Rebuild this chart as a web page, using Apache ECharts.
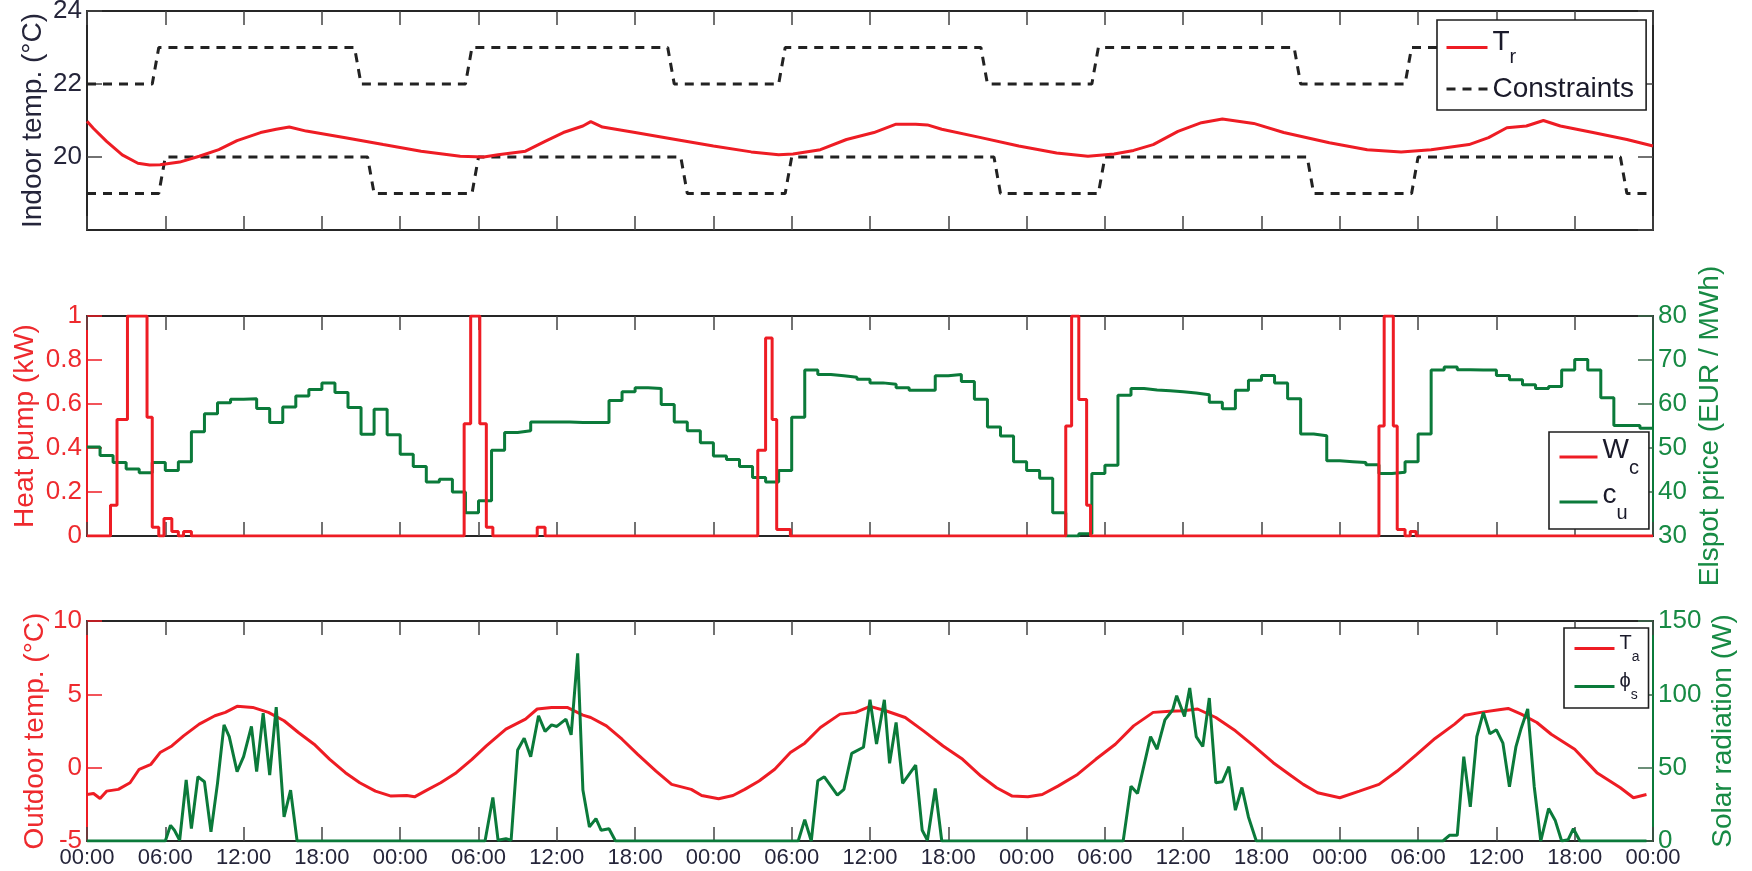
<!DOCTYPE html>
<html>
<head>
<meta charset="utf-8">
<script src="https://cdn.jsdelivr.net/npm/echarts@6/dist/echarts.min.js"></script>
<style>html,body{margin:0;padding:0;background:#fff}#c{width:1752px;height:871px}</style>
</head>
<body>
<div id="c"></div>
<script>
// ---------- data (hours from the first 00:00) ----------
const timeTickLabels = ['00:00', '06:00', '12:00', '18:00'];

// Indoor temperature T_r (°C)
const trHours = [0, 0.5, 1.5, 2.7, 3.9, 4.8, 5.6, 7.1, 8.6, 10.1, 11.5, 13.3, 14.5, 15.5, 16.8, 19.8, 22.7, 25.6, 28.6, 30.4, 31.5, 33.6, 35.1, 36.5, 38, 38.6, 39.5, 42, 45.1, 48, 50.9, 53, 54.1, 56.2, 58.2, 60.3, 62, 63.5, 64.4, 65.5, 68.5, 71.4, 74.3, 76.7, 78.7, 80.2, 81.7, 83.6, 85.4, 87, 89.4, 91.7, 95.2, 98.1, 100.7, 103, 105.9, 107.4, 108.8, 110.3, 111.6, 112.9, 115.4, 118, 120];
const trValues = [20.98, 20.78, 20.43, 20.06, 19.83, 19.78, 19.79, 19.86, 20.02, 20.2, 20.45, 20.67, 20.76, 20.82, 20.71, 20.53, 20.34, 20.16, 20.02, 20.0, 20.06, 20.16, 20.43, 20.67, 20.85, 20.97, 20.82, 20.67, 20.48, 20.3, 20.14, 20.06, 20.08, 20.2, 20.48, 20.67, 20.9, 20.9, 20.88, 20.76, 20.53, 20.3, 20.11, 20.02, 20.08, 20.18, 20.34, 20.7, 20.94, 21.04, 20.92, 20.67, 20.39, 20.2, 20.14, 20.2, 20.34, 20.53, 20.8, 20.85, 21.0, 20.85, 20.67, 20.48, 20.3];

// Comfort constraints (°C)
const upperHours = [0, 5, 5.5, 20.5, 21, 29, 29.5, 44.5, 45, 53, 53.5, 68.5, 69, 77, 77.5, 92.5, 93, 101, 101.5, 116.5, 117, 120];
const upperValues = [22, 22, 23, 23, 22, 22, 23, 23, 22, 22, 23, 23, 22, 22, 23, 23, 22, 22, 23, 23, 22, 22];
const lowerHours = [0, 5.5, 6, 21.5, 22, 29.5, 30, 45.5, 46, 53.5, 54, 69.5, 70, 77.5, 78, 93.5, 94, 101.5, 102, 117.5, 118, 120];
const lowerValues = [19, 19, 20, 20, 19, 19, 20, 20, 19, 19, 20, 20, 19, 19, 20, 20, 19, 19, 20, 20, 19, 19];

// Heat pump power W_c (kW), step changes
const wcHours = [0, 1.8, 2.3, 3.1, 4.6, 5.0, 5.5, 5.9, 6.5, 7.0, 7.4, 8.0, 28.9, 29.4, 30.1, 30.6, 31.1, 34.5, 35.1, 51.4, 52.0, 52.5, 52.85, 53.9, 75.0, 75.45, 76.0, 76.6, 76.9, 99.0, 99.4, 100.1, 100.4, 101.0, 101.4, 101.85, 120];
const wcValues = [0, 0.14, 0.53, 1.0, 0.54, 0.04, 0, 0.08, 0.02, 0, 0.02, 0, 0.51, 1.0, 0.51, 0.04, 0, 0.04, 0, 0.39, 0.9, 0.53, 0.03, 0, 0.5, 1.0, 0.62, 0.14, 0, 0.5, 1.0, 0.5, 0.03, 0, 0.02, 0, 0];

// Elspot price c_u (EUR/MWh), one value per hour
const priceValues = [
  50.2, 48.3, 46.7, 45.2, 44.4, 46.7, 44.9, 46.9, 53.7, 57.8, 60.3, 61.1, 61.2, 59.0, 55.8, 59.3, 61.8, 63.3, 64.8, 62.6, 59.2, 53.1, 58.8, 53.0,
  48.6, 45.8, 42.3, 42.9, 40.0, 35.3, 38.0, 49.5, 53.5, 53.9, 55.9, 55.9, 55.9, 55.8, 55.8, 55.8, 60.8, 62.8, 63.7, 63.5, 59.9, 55.9, 53.9, 51.2,
  48.2, 47.4, 45.8, 43.3, 42.3, 44.9, 57.0, 67.7, 66.7, 66.4, 66.1, 65.6, 64.8, 64.5, 63.7, 63.1, 63.1, 66.4, 66.7, 65.1, 61.1, 54.8, 52.7, 46.9,
  44.9, 43.1, 35.3, 30.0, 30.5, 44.2, 46.1, 62.0, 63.5, 63.2, 63.0, 62.8, 62.5, 62.1, 60.4, 58.9, 63.1, 65.4, 66.5, 64.8, 61.2, 53.2, 52.8, 47.1,
  46.9, 46.7, 46.2, 44.2, 44.5, 46.9, 53.2, 67.7, 68.4, 67.8, 67.7, 67.7, 66.5, 65.5, 64.4, 63.5, 64.0, 67.7, 70.1, 67.7, 61.4, 55.1, 55.1, 54.5
];

// Outdoor temperature T_a (°C)
const taHours = [0, 0.5, 1, 1.5, 2.4, 3.3, 4, 4.9, 5.6, 6.5, 7.4, 8.6, 9.8, 10.6, 11.5, 12.7, 13.9, 15.1, 16.2, 17.4, 18.6, 19.8, 20.9, 22.1, 23.3, 24.5, 25.1, 25.9, 27.1, 28.3, 29.5, 30.6, 32.1, 33.6, 34.5, 35.6, 36.8, 38, 38.6, 39.8, 41, 42.2, 43.6, 44.8, 46.3, 47.1, 48.4, 49.5, 50.4, 51.5, 52.7, 53.9, 55, 56.2, 57.7, 58.9, 60, 61.2, 62.7, 64.1, 65.6, 67.1, 68.5, 69.7, 70.9, 72.1, 73.2, 74.4, 75.9, 77.3, 78.8, 80.2, 81.7, 83, 84, 85.1, 86.5, 88, 89.4, 90.9, 92.3, 93.2, 94.3, 96, 97.5, 99, 100.4, 101.9, 103.3, 104.8, 105.6, 106.8, 108.2, 108.9, 109.9, 111.1, 112.2, 114, 115.7, 117.5, 118.5, 119.5];
const taValues = [-1.83, -1.76, -2.1, -1.6, -1.48, -1.03, -0.11, 0.23, 1.03, 1.48, 2.17, 2.97, 3.54, 3.77, 4.18, 4.11, 3.77, 3.2, 2.4, 1.6, 0.57, -0.34, -1.03, -1.6, -1.94, -1.9, -1.99, -1.6, -1.03, -0.34, 0.57, 1.48, 2.63, 3.31, 4.0, 4.11, 4.11, 3.58, 3.42, 2.85, 1.94, 0.91, -0.23, -1.14, -1.48, -1.9, -2.12, -1.9, -1.48, -0.91, -0.11, 1.03, 1.67, 2.74, 3.65, 3.77, 4.18, 3.88, 3.42, 2.51, 1.48, 0.57, -0.57, -1.37, -1.94, -1.99, -1.83, -1.26, -0.46, 0.57, 1.6, 2.85, 3.77, 3.85, 3.88, 4.0, 3.42, 2.51, 1.48, 0.34, -0.57, -1.14, -1.71, -2.05, -1.6, -1.14, -0.23, 0.91, 1.99, 2.97, 3.58, 3.77, 3.95, 4.04, 3.65, 3.08, 2.28, 1.26, -0.34, -1.37, -2.05, -1.83];

// Solar radiation phi_s (W)
const phiHours = [0, 6, 6.4, 6.7, 7.1, 7.6, 8, 8.5, 9, 9.5, 10, 10.5, 10.9, 11.5, 12, 12.6, 13, 13.5, 14, 14.5, 15.1, 15.6, 16.1,
  30.5, 31.1, 31.5, 32.1, 32.5, 33, 33.5, 34, 34.6, 35.1, 35.6, 36, 36.7, 37.1, 37.6, 38, 38.5, 39, 39.4, 40, 40.5,
  54.5, 55, 55.5, 56, 56.5, 57.5, 58, 58.6, 59.5, 60, 60.5, 61.1, 61.5, 62, 62.5, 63.5, 64, 64.4, 65, 65.5,
  79.4, 80, 80.5, 81.5, 82, 82.6, 83.2, 83.5, 84.1, 84.5, 85, 85.5, 86, 86.5, 87, 87.5, 88, 88.5, 89, 89.6,
  103.9, 104.4, 105, 105.5, 106, 106.5, 107, 107.5, 108, 108.5, 109, 109.5, 109.9, 110.4, 110.9, 111.4, 112, 112.5, 113, 113.5, 113.9, 114.4, 119.5];
const phiValues = [0, 0, 10.7, 7.3, 0.5, 41.6, 8.4, 43.8, 40.4, 6.2, 39.3, 79.2, 71.2, 47.3, 57.5, 78.1, 47.3, 87.2, 45, 91.3, 16.4, 34.7, 0,
  0, 29.7, 0.5, 1.6, 0.5, 62.1, 70.1, 57.5, 85.4, 74.7, 79.2, 78.1, 83.1, 72.4, 127.9, 34.7, 9.6, 15.3, 7.3, 8.4, 0,
  0, 14.6, 0, 41.1, 43.8, 31.3, 35.2, 59.8, 63.9, 96.3, 66.2, 96.3, 53, 80.8, 39.3, 51.8, 7.3, 0.5, 35.8, 0,
  0, 37.4, 32.4, 71.2, 62.6, 82.6, 89.5, 99.1, 84.9, 104.3, 71.2, 64.4, 97.5, 39.7, 40.4, 50.7, 21, 36.5, 16.4, 0,
  0, 3.9, 3.9, 57.5, 23.3, 71.2, 87.7, 73.1, 75.8, 66.7, 37, 64.4, 76.9, 90, 37, 0, 22.1, 14.2, 0, 0.9, 8.4, 0, 0];

// legend labels: main letter + subscript
const legendLabels = {
  Tr: ['T', 'r'], Constraints: ['Constraints', ''],
  Wc: ['W', 'c'], cu: ['c', 'u'],
  Ta: ['T', 'a'], phis: ['\u03D5', 's']
};

// ---------- styling ----------
const F = '"Liberation Sans", Arial, Helvetica, sans-serif';
const RED = '#ee1c24';
const GREEN = '#0b7a3a';
const GREEN_TXT = '#178a44';
const RED_TXT = '#ee2a2e';
const DARK = '#262626';
const TXT = '#25253a';
const LEG_TXT = '#1a1a2a';

const pairs = (h, v) => h.map((t, i) => [t, v[i]]);
const priceData = priceValues.map((v, k) => [k, v]).concat([[120, priceValues[priceValues.length - 1]]]);

function xAx(grid, pos, showLabel) {
  return {
    type: 'value', gridIndex: grid, position: pos, min: 0, max: 120, interval: 6,
    axisLine: { show: true, onZero: false, lineStyle: { color: DARK, width: 2 } },
    axisTick: { show: true, inside: true, length: 14, lineStyle: { color: '#444', width: 1.5 } },
    axisLabel: { show: showLabel, margin: 6, fontFamily: F, fontSize: 22, color: TXT,
      formatter: v => timeTickLabels[Math.round(v / 6) % 4] },
    splitLine: { show: false }
  };
}
function yAx(o) {
  return {
    type: 'value', gridIndex: o.grid, position: o.pos, min: o.min, max: o.max, interval: o.interval,
    name: o.name || '', nameLocation: 'middle', nameGap: o.nameGap || 0, nameMoveOverlap: false,
    nameTextStyle: { fontFamily: F, fontSize: 28, color: o.txt },
    axisLine: { show: true, onZero: false, lineStyle: { color: o.line, width: 2 } },
    axisTick: { show: true, inside: true, length: 15, lineStyle: { color: o.tick || o.line, width: 1.5 } },
    axisLabel: { show: o.labels !== false, showMinLabel: o.hideMin ? false : null, margin: 5,
      fontFamily: F, fontSize: 26, color: o.txt },
    splitLine: { show: false }
  };
}
function legend(names, left, top, size, subSize, drop, padding, gap, iconW) {
  return {
    data: names, orient: 'vertical', left: left, top: top, padding: padding, itemGap: gap,
    itemWidth: iconW, itemHeight: 14, selectedMode: false,
    itemStyle: { opacity: 0 },
    lineStyle: { width: 3 },
    backgroundColor: '#fff', borderColor: '#1e1e1e', borderWidth: 1.6, borderRadius: 0,
    formatter: n => { const [m, s] = legendLabels[n]; return s ? '{m|' + m + '}{s|' + s + '}' : '{p|' + m + '}'; },
    textStyle: { fontFamily: F, fontSize: size, color: LEG_TXT,
      rich: {
        m: { fontFamily: F, fontSize: size, color: LEG_TXT, verticalAlign: 'bottom', padding: [0, 0, drop, 0] },
        s: { fontFamily: F, fontSize: subSize, color: LEG_TXT, verticalAlign: 'bottom' },
        p: { fontFamily: F, fontSize: size, color: LEG_TXT }
      } }
  };
}

const chart = echarts.init(document.getElementById('c'), null, { renderer: 'canvas' });
chart.setOption({
  animation: false,
  backgroundColor: '#fff',
  grid: [
    { left: 87, right: 99, top: 11, height: 219, outerBoundsMode: 'none' },
    { left: 87, right: 99, top: 316, height: 220, outerBoundsMode: 'none' },
    { left: 87, right: 99, top: 621, height: 220, outerBoundsMode: 'none' }
  ],
  xAxis: [xAx(0, 'bottom', false), xAx(0, 'top', false), xAx(1, 'bottom', false), xAx(1, 'top', false), xAx(2, 'bottom', true), xAx(2, 'top', false)],
  yAxis: [
    yAx({ grid: 0, pos: 'left', min: 18, max: 24, interval: 2, name: 'Indoor temp. (°C)', nameGap: 40, txt: TXT, line: DARK, tick: '#444', hideMin: true }),
    yAx({ grid: 0, pos: 'right', min: 18, max: 24, interval: 2, txt: TXT, line: DARK, tick: '#444', labels: false }),
    yAx({ grid: 1, pos: 'left', min: 0, max: 1, interval: 0.2, name: 'Heat pump (kW)', nameGap: 48, txt: RED_TXT, line: RED }),
    yAx({ grid: 1, pos: 'right', min: 30, max: 80, interval: 10, name: 'Elspot price (EUR / MWh)', nameGap: 43, txt: GREEN_TXT, line: GREEN, tick: '#3d6b4c' }),
    yAx({ grid: 2, pos: 'left', min: -5, max: 10, interval: 5, name: 'Outdoor temp. (°C)', nameGap: 38, txt: RED_TXT, line: RED }),
    yAx({ grid: 2, pos: 'right', min: 0, max: 150, interval: 50, name: 'Solar radiation (W)', nameGap: 56, txt: GREEN_TXT, line: GREEN, tick: '#3d6b4c' })
  ],
  legend: [
    legend(['Tr', 'Constraints'], 1437, 20, 28, 20, 11, [8, 12, 7, 8], 8, 41),
    legend(['Wc', 'cu'], 1549, 432, 28, 20, 14, [4, 10, 6, 9], 3, 38),
    legend(['Ta', 'phis'], 1564, 628, 20, 14, 11, [5, 9, 6, 9], 7, 40)
  ],
  series: [
    { name: 'Tr', type: 'line', xAxisIndex: 0, yAxisIndex: 0, data: pairs(trHours, trValues), symbol: 'none', z: 3,
      lineStyle: { color: RED, width: 3 }, itemStyle: { color: RED } },
    { name: 'Constraints', type: 'line', xAxisIndex: 0, yAxisIndex: 0, data: pairs(upperHours, upperValues), symbol: 'none', z: 2,
      lineStyle: { color: '#222', width: 3, type: [9, 7] }, itemStyle: { color: '#222' } },
    { name: 'Constraints', type: 'line', xAxisIndex: 0, yAxisIndex: 0, data: pairs(lowerHours, lowerValues), symbol: 'none', z: 2,
      lineStyle: { color: '#222', width: 3, type: [9, 7] }, itemStyle: { color: '#222' } },
    { name: 'Wc', type: 'line', step: 'end', xAxisIndex: 2, yAxisIndex: 2, data: pairs(wcHours, wcValues), symbol: 'none', z: 3,
      lineStyle: { color: RED, width: 3 }, itemStyle: { color: RED } },
    { name: 'cu', type: 'line', step: 'end', xAxisIndex: 2, yAxisIndex: 3, data: priceData, symbol: 'none', z: 2,
      lineStyle: { color: GREEN, width: 3 }, itemStyle: { color: GREEN } },
    { name: 'Ta', type: 'line', xAxisIndex: 4, yAxisIndex: 4, data: pairs(taHours, taValues), symbol: 'none', z: 2,
      lineStyle: { color: RED, width: 3 }, itemStyle: { color: RED } },
    { name: 'phis', type: 'line', xAxisIndex: 4, yAxisIndex: 5, data: pairs(phiHours, phiValues), symbol: 'none', z: 3,
      lineStyle: { color: GREEN, width: 3 }, itemStyle: { color: GREEN } }
  ]
});
</script>
</body>
</html>
